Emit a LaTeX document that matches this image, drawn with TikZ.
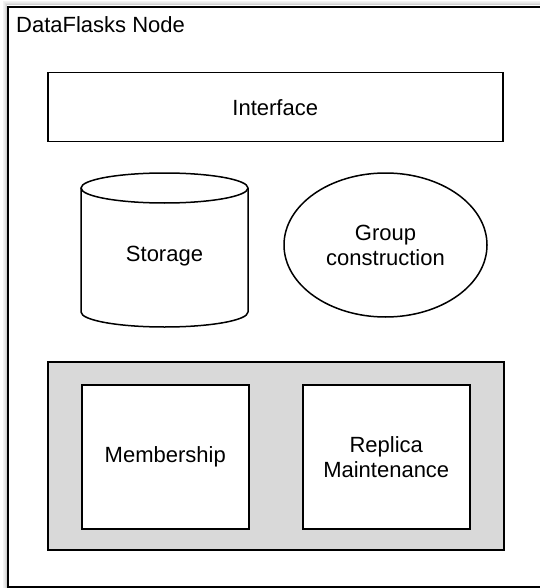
\documentclass[tikz,border=0pt]{standalone}
\usepackage{fontspec}
\setmainfont{Liberation Sans}
\usetikzlibrary{shapes.geometric}
\tikzset{
  lbl/.style={font=\fontsize{22}{25}\selectfont, align=center, inner sep=0pt},
  boxstyle/.style={draw=black, line width=1.5pt, fill=white, inner sep=0pt},
  panel/.style={draw=black, line width=1.5pt, fill=gray!30, inner sep=0pt},
}
\begin{document}
\begin{tikzpicture}[x=1pt, y=-1pt]
\useasboundingbox (0,0) rectangle (539,588);
% soft shadow of the outer frame
\foreach \d/\o in {4/0.05, 3/0.08, 2/0.12, 1/0.18}{
  \draw[black, opacity=\o, line width=1pt] (7-\d,6-\d) rectangle (546+\d,586+\d);
}
% outer frame
\node[draw=black, line width=2pt, fill=white, inner sep=0pt, anchor=north west,
      minimum width=539pt, minimum height=580pt] (outer) at (7,6) {};
\node[lbl, anchor=base west] (title) at (16,33) {DataFlasks Node};

% interface
\node[boxstyle, anchor=north west, minimum width=455pt, minimum height=69pt] (iface) at (47,72) {};
\node[lbl] (ifacetxt) at (iface.center) {Interface};

% storage cylinder
\draw[line width=1.5pt, fill=white] (81,188) -- (81,312)
  arc[start angle=180, end angle=0, x radius=83.5, y radius=15] -- (248,188);
\draw[line width=1.5pt, fill=white] (164.5,188) ellipse [x radius=83.5, y radius=15];
\node[lbl] (storage) at (164.5,256) {Storage};

% group construction
\node[ellipse, draw=black, line width=1.5pt, fill=white, inner sep=0pt,
      minimum width=203pt, minimum height=144pt, lbl] (group) at (385.5,245) {Group\\construction};

% lower panel
\node[panel, anchor=north west, minimum width=456pt, minimum height=188pt] (panel) at (47,361) {};
\node[boxstyle, anchor=north west, minimum width=167pt, minimum height=144pt] (member) at (81,384) {};
\node[lbl] (membertxt) at (member.center) {Membership};
\node[boxstyle, anchor=north west, minimum width=167pt, minimum height=144pt] (replica) at (302,384) {};
\node[lbl] (replicatxt) at (replica.center) {Replica\\Maintenance};
\end{tikzpicture}
\end{document}
